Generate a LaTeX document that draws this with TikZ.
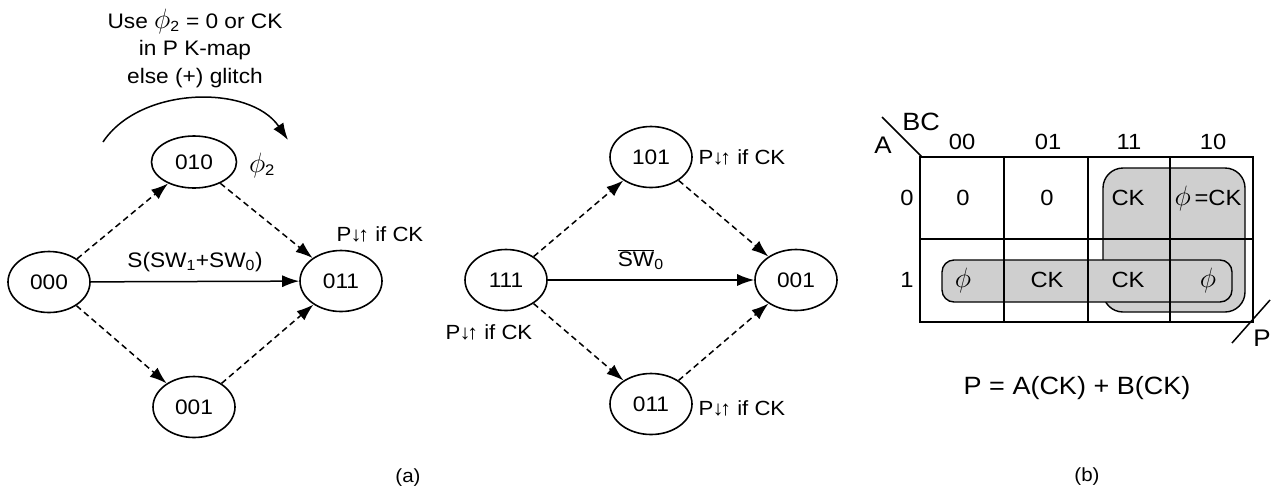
\documentclass[tikz,border=0pt]{standalone}
\usepackage{fontspec}
\setmainfont{Liberation Sans}[FakeStretch=1.08]
\usetikzlibrary{arrows.meta,shapes.geometric}

\newcommand{\ph}{\scalebox{1.35}{\(\phi\)}}
\newcommand{\pglitch}{P\kern-1pt↓\kern-3.5pt↑ if CK}

\begin{document}
\begin{tikzpicture}[x=1pt, y=-1pt, >={Latex[length=17pt,width=12pt]}, line width=1.5pt,
  font=\fontsize{21}{24}\selectfont,
  state/.style={ellipse, draw, line width=1.6pt, minimum width=82pt, minimum height=61pt, inner sep=0pt},
  soft/.style={->, dash pattern=on 6pt off 4pt},
  note/.style={font=\fontsize{20.5}{23}\selectfont, inner sep=0pt},
  kmap/.style={font=\fontsize{22}{24}\selectfont, inner sep=0pt},
  group/.style={draw, line width=1.4pt, fill=gray!38}]
    \useasboundingbox (0,0) rectangle (1271,491);

    % (a) first machine
    \node[state] (L000) at (49,282) {000};
    \node[state, minimum width=85pt, minimum height=52pt] (L010) at (194,162) {010};
    \node[state] (L011) at (341,281) {011};
    \node[state] (L001) at (194,407) {001};
    \path[->] (L000) edge node[above=6pt] {S(SW\textsubscript{1}+SW\textsubscript{0})} (L011);
    \path[soft]
        (L000) edge (L010)
        (L010) edge (L011)
        (L000) edge (L001)
        (L001) edge (L011);
    \node[note, font=\fontsize{22}{24}\selectfont] (phi) at (262,165) {\ph\textsubscript{2}};
    \node[note] (L011cond) at (380,234) {\pglitch};
    \node[align=center, font=\fontsize{21}{27.5}\selectfont] (glitch) at (195,48)
        {Use \ph\textsubscript{2} = 0 or CK\\ in P K-map\\ else (+) glitch};
    \coordinate (arcL) at (103,142);
    \coordinate (arcR) at (288,140);
    \draw[->] (arcL) .. controls (140,86) and (250,84) .. (arcR);

    % (a) second machine
    \node[state] (M111) at (506,280) {111};
    \node[state] (M101) at (651,157) {101};
    \node[state] (M001) at (796,280) {001};
    \node[state] (M011) at (651,404) {011};
    \path[->] (M111) edge node[above=6pt, pos=0.45] {\(\overline{\mbox{SW}}\)\textsubscript{0}} (M001);
    \path[soft]
        (M111) edge (M101)
        (M101) edge (M001)
        (M111) edge (M011)
        (M011) edge (M001);
    \node[note] (M101cond) at (742,157) {\pglitch};
    \node[note] (M011cond) at (742,408) {\pglitch};
    \node[note] (M111cond) at (489,332) {\pglitch};
    \node[font=\fontsize{19}{22}\selectfont] (capA) at (408,478) {(a)};

    % (b) K-map
    \draw[group, rounded corners=20pt] (1103,168) rectangle (1245,312);
    \draw[group, rounded corners=12pt] (942,260) rectangle (1232,302);
    \draw (920,157) rectangle (1253,322);
    \foreach \gx in {1004,1088,1170}
        \draw (\gx,157) -- (\gx,322);
    \draw (920,239) -- (1253,239);
    \draw (882,117) -- (922,157);
    \draw (1232,343) -- (1270,300);
    \foreach \lbl/\gx in {00/962,01/1048,11/1129,10/1213}
        \node[kmap] (col\lbl) at (\gx,142) {\lbl};
    \node[kmap] (row0) at (907,198) {0};
    \node[kmap] (row1) at (907,280) {1};
    \node[kmap, font=\fontsize{25}{27}\selectfont] (BC) at (921,122) {BC};
    \node[kmap, font=\fontsize{24}{26}\selectfont] (A) at (883,145) {A};
    \node[kmap, font=\fontsize{24}{26}\selectfont] (Pout) at (1262,338) {P};
    \node[kmap] (m0) at (963,198) {0};
    \node[kmap] (m1) at (1047,198) {0};
    \node[kmap] (m3) at (1128,198) {CK};
    \node[kmap] (m2) at (1208,198) {\ph\,=CK};
    \node[kmap] (m4) at (963,280) {\ph};
    \node[kmap] (m5) at (1047,280) {CK};
    \node[kmap] (m7) at (1128,280) {CK};
    \node[kmap] (m6) at (1208,280) {\ph};
    \node[font=\fontsize{25}{27}\selectfont] (eqP) at (1077,388) {P = A(CK) + B(CK)};
    \node[font=\fontsize{19}{22}\selectfont] (capB) at (1087,477) {(b)};
\end{tikzpicture}
\end{document}
